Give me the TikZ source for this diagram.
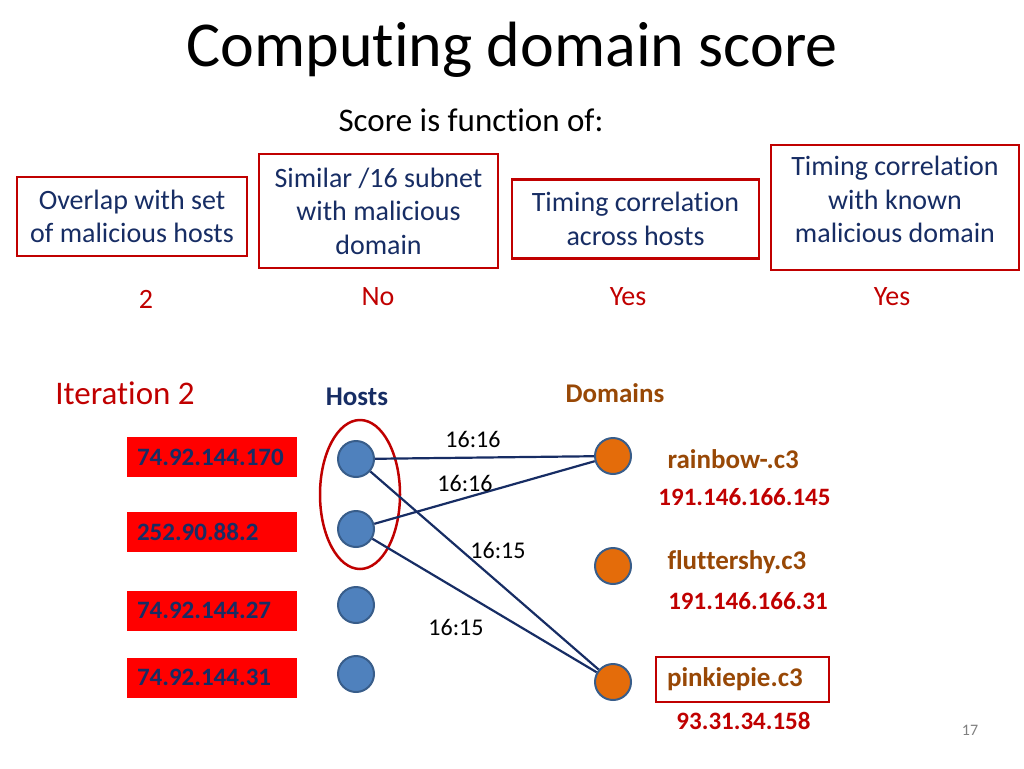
\documentclass[tikz,border=0pt]{standalone}
\usepackage{fontspec}
\setmainfont{Carlito}[Ligatures=NoCommon]
\usepackage{tikz}
\definecolor{slidered}{RGB}{192,0,0}
\definecolor{slidenavy}{RGB}{23,45,100}
\definecolor{hostblue}{RGB}{79,129,189}
\definecolor{hostrim}{RGB}{56,93,138}
\definecolor{domorange}{RGB}{228,108,10}
\definecolor{dombrown}{RGB}{152,72,6}
\newcommand{\fs}[1]{\fontsize{#1}{1.2\dimexpr#1pt\relax}\selectfont}

\begin{document}
\begin{tikzpicture}[x=1pt,y=-1pt,
    critbox/.style={draw=slidered,line width=2.5pt,fill=white,align=center,
      text=slidenavy,font=\fs{28},inner sep=0pt},
    answer/.style={text=slidered,font=\fs{28}},
    ipbox/.style={fill=red,minimum width=170pt,minimum height=40pt,inner xsep=10pt,
      text width=150pt,align=left,text=slidenavy,font=\bfseries\fs{25}},
    host/.style={circle,fill=hostblue,draw=hostrim,line width=2pt,minimum size=36pt,inner sep=0pt},
    dom/.style={circle,fill=domorange,draw=hostrim,line width=2pt,minimum size=36pt,inner sep=0pt},
    domname/.style={anchor=west,text=dombrown,font=\bfseries\fs{27}},
    domip/.style={text=slidered,font=\bfseries\fs{25}},
    edge/.style={draw=slidenavy,line width=2.2pt},
    elabel/.style={font=\fs{24}}]
        \useasboundingbox (0,0) rectangle (1024,768);
        % title
        \node (title) at (512,50) {\fs{64}Computing domain score};
        \node (sub) at (471,120) {\fs{33}Score is function of:};
        % criteria
        \node[critbox,minimum width=230pt,minimum height=79pt] (c1) at (132,216.5)
            {Overlap with set\\of malicious hosts};
        \node[critbox,minimum width=239pt,minimum height=114pt] (c2) at (378.5,211)
            {Similar /16 subnet\\with malicious\\domain};
        \node[critbox,minimum width=247pt,minimum height=79pt] (c3) at (635.5,219)
            {Timing correlation\\across hosts};
        \node[critbox,minimum width=248pt,minimum height=125pt,text depth=16pt] (c4) at (895,207.5)
            {Timing correlation\\with known\\malicious domain};
        % answers
        \node[answer] (a1) at (146,299) {2};
        \node[answer] (a2) at (378,297) {No};
        \node[answer] (a3) at (628,297) {Yes};
        \node[answer] (a4) at (892,297) {Yes};
        % graph
        \node[text=slidered,font=\fs{33}] (iter) at (125,393) {Iteration 2};
        \node[text=slidenavy,font=\bfseries\fs{27}] (hosts) at (357,397) {Hosts};
        \node[text=dombrown,font=\bfseries\fs{27}] (domains) at (615,393) {Domains};
        \node[ipbox] (ip1) at (212,457) {74.92.144.170};
        \node[ipbox] (ip2) at (212,532) {252.90.88.2};
        \node[ipbox] (ip3) at (212,610.5) {74.92.144.27};
        \node[ipbox] (ip4) at (212,677.5) {74.92.144.31};
        \node[host] (h1) at (356,459) {};
        \node[host] (h2) at (356,529) {};
        \node[host] (h3) at (356,605) {};
        \node[host] (h4) at (356,674) {};
        \draw[slidered,line width=2.5pt] (360,494.5) ellipse [x radius=40,y radius=74.5];
        \node[dom] (d1) at (613,456) {};
        \node[dom] (d2) at (613,566) {};
        \node[dom] (d3) at (613,682) {};
        % edges
        \draw[edge] (h1) -- (d1);
        \draw[edge] (h2) -- (d1);
        \draw[edge] (h1) -- (d3);
        \draw[edge] (h2) -- (d3);
        \node[elabel] (l1) at (473,439) {16:16};
        \node[elabel] (l2) at (465,483) {16:16};
        \node[elabel] (l3) at (498,550) {16:15};
        \node[elabel] (l4) at (456,627) {16:15};
        % domain names
        \node[domname] (n1) at (664,459) {rainbow-.c3};
        \node[domip] (p1) at (744.5,497) {191.146.166.145};
        \node[domname] (n2) at (664,562) {fluttershy.c3};
        \node[domip] (p2) at (748,601) {191.146.166.31};
        \node[domname,draw=slidered,line width=2pt,fill=white,minimum width=173pt,
            minimum height=45pt,text width=151pt,inner xsep=11pt] (n3) at (655,679.5) {pinkiepie.c3};
        \node[domip] (p3) at (743.5,721) {93.31.34.158};
        % page number
        \node[text=gray,font=\fs{16}] (page) at (970,730) {17};
    \end{tikzpicture}
\end{document}
